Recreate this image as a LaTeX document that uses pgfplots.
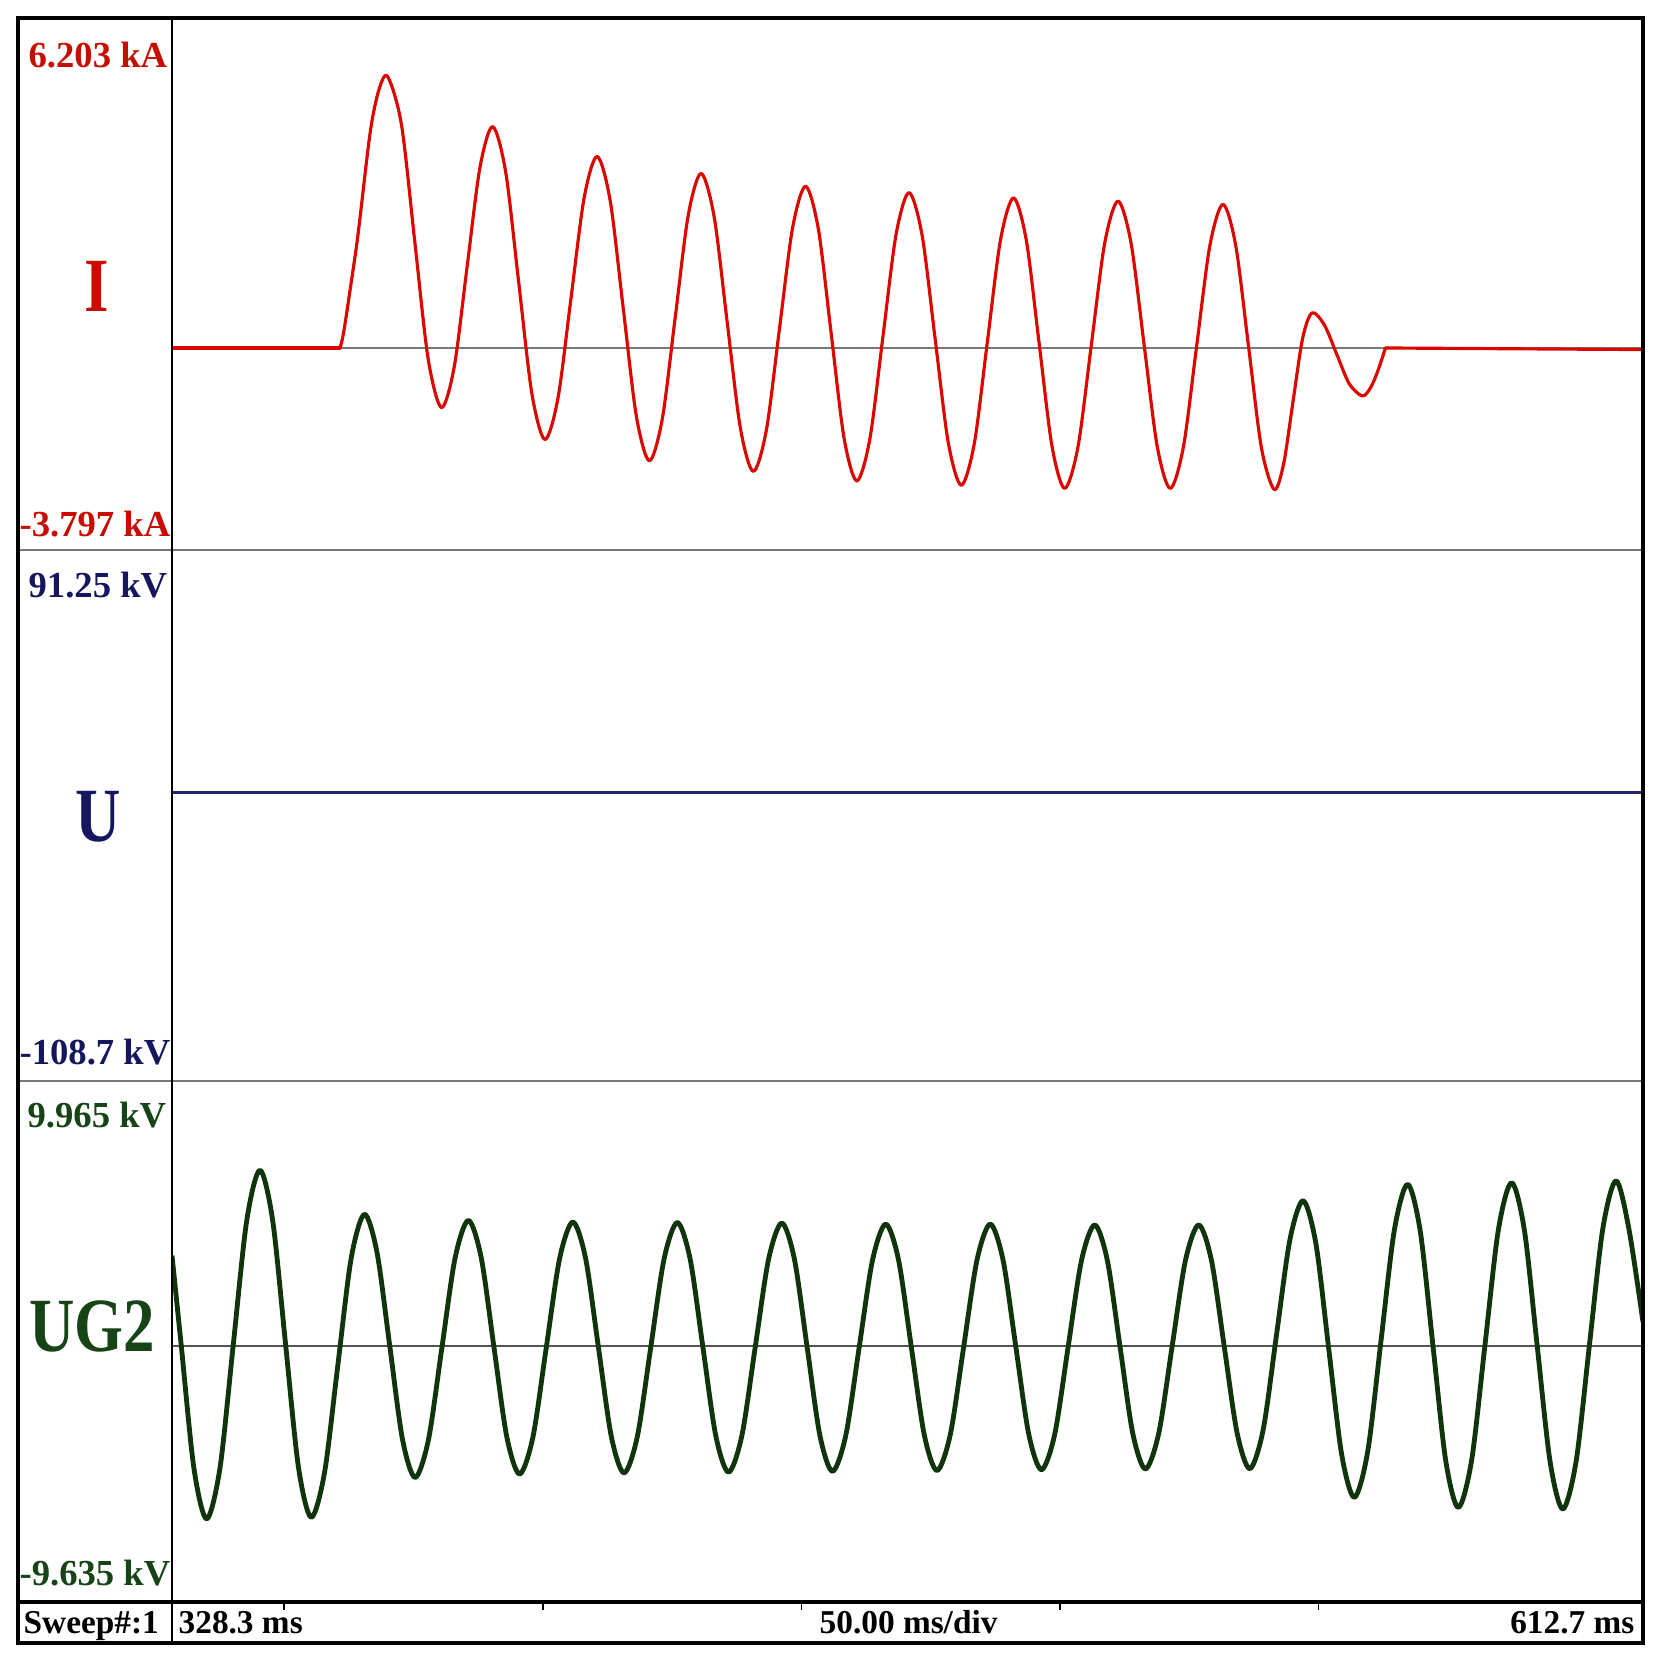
\documentclass[border=0pt]{standalone}
\usepackage{pgfplots}
\pgfplotsset{compat=1.18}
\usepackage{fontspec}
\setmainfont{Liberation Serif}
\definecolor{ired}{RGB}{218,8,0}
\definecolor{itxt}{RGB}{200,12,0}
\definecolor{unavy}{RGB}{35,35,115}
\definecolor{utxt}{RGB}{22,22,95}
\definecolor{ggreen}{RGB}{16,52,12}
\definecolor{gtxt}{RGB}{22,68,22}
\definecolor{zgray}{RGB}{120,120,120}
\newcommand{\lab}{\fontsize{11pt}{11pt}\selectfont\bfseries}
\newcommand{\biglab}[1]{\scalebox{0.82}[1]{\fontsize{23pt}{23pt}\selectfont\bfseries #1}}
\newcommand{\barlab}{\fontsize{10pt}{10pt}\selectfont\bfseries}
\pgfplotsset{panel/.style={scale only axis, width=441.3pt, xmin=328.3, xmax=612.7,
  hide axis, anchor=south west, clip=true}}
\begin{document}
\begin{tikzpicture}
\begin{scope}[x=0.3pt,y=0.3pt]
\path[use as bounding box] (0,0) rectangle (1668,1666);
\coordinate (A1) at (172,1116);
\coordinate (A2) at (172,585);
\coordinate (A3) at (172,64);
\end{scope}
% ---------------- I panel
\begin{axis}[panel, at={(A1)}, height=159.6pt, ymin=-3.797, ymax=6.203]
\addplot[zgray, line width=0.6pt] coordinates {(328.3,0) (612.7,0)};
\addplot[ired, line width=0.95pt, line cap=round] coordinates {(328.3,0) (360.8,0)};
\addplot[ired, line width=0.95pt, smooth, line cap=round, line join=round] coordinates {
(360.8,0) (361.5,0.3) (362.9,1.2) (364.3,2.16) (366.6,4.04) (368.3,4.85) (370.0,5.10)
(372.68,4.189) (375.25,1.99) (377.83,-0.209) (380.4,-1.12)
(382.88,-0.347) (385.35,1.52) (387.83,3.387) (390.3,4.16)
(392.83,3.299) (395.35,1.22) (397.88,-0.859) (400.4,-1.72)
(402.93,-0.941) (405.45,0.94) (407.98,2.821) (410.5,3.60)
(413.03,2.763) (415.55,0.74) (418.08,-1.283) (420.6,-2.12)
(423.1,-1.329) (425.6,0.58) (428.1,2.489) (430.6,3.28)
(433.13,2.46) (435.65,0.48) (438.18,-1.50) (440.7,-2.32)
(443.23,-1.535) (445.75,0.36) (448.28,2.255) (450.8,3.04)
(453.28,2.229) (455.75,0.27) (458.23,-1.689) (460.7,-2.50)
(463.23,-1.707) (465.75,0.21) (468.28,2.127) (470.8,2.92)
(473.33,2.115) (475.85,0.17) (478.38,-1.775) (480.9,-2.58)
(483.43,-1.789) (485.95,0.12) (488.48,2.029) (491.0,2.82)
(493.48,2.021) (495.95,0.09) (498.43,-1.841) (500.9,-2.64)
(503.48,-1.849) (506.05,0.06) (508.63,1.969) (511.2,2.76)
(513.73,1.969) (516.25,0.06) (518.78,-1.849) (521.3,-2.64)
(523.85,-1.858) (526.4,0.03) (528.95,1.918) (531.5,2.70)
(533.98,1.915) (536.45,0.02) (538.93,-1.875) (541.4,-2.66)
(543.23,-2.174) (545.05,-1.00) (546.88,0.174) (548.7,0.66)
(551.1,0.432) (553.5,-0.12) (555.9,-0.672) (558.3,-0.90)
(559.45,-0.832) (560.6,-0.636) (561.75,-0.345) (562.9,0)
};
\addplot[ired, line width=0.95pt, line cap=round] coordinates {(562.9,0) (612.7,-0.03)};
\end{axis}
% ---------------- U panel
\begin{axis}[panel, at={(A2)}, height=159.3pt, ymin=-108.7, ymax=91.25]
\addplot[unavy, line width=0.85pt] coordinates {(328.3,0) (612.7,0)};
\end{axis}
% ---------------- UG2 panel
\begin{axis}[panel, at={(A3)}, height=156.3pt, ymin=-9.635, ymax=9.965]
\addplot[zgray!70!black, line width=0.55pt] coordinates {(328.3,0) (612.7,0)};
\addplot[ggreen, line width=1.45pt, smooth, line join=round] coordinates {
(328.3,3.4) (330.07,0.05) (332.53,-4.59) (335.0,-6.51)
(337.58,-4.589) (340.15,0.05) (342.73,4.689) (345.3,6.61)
(347.78,4.698) (350.25,0.08) (352.73,-4.538) (355.2,-6.45)
(357.78,-4.781) (360.35,-0.75) (362.93,3.281) (365.5,4.95)
(367.95,3.501) (370.4,0) (372.85,-3.501) (375.3,-4.95)
(377.88,-3.534) (380.45,-0.115) (383.03,3.304) (385.6,4.72)
(388.08,3.323) (390.55,-0.05) (393.03,-3.423) (395.5,-4.82)
(398.08,-3.432) (400.65,-0.08) (403.23,3.272) (405.8,4.66)
(408.28,3.278) (410.75,-0.06) (413.23,-3.398) (415.7,-4.78)
(418.28,-3.401) (420.85,-0.07) (423.43,3.261) (426.0,4.64)
(428.48,3.265) (430.95,-0.055) (433.43,-3.375) (435.9,-4.75)
(438.48,-3.378) (441.05,-0.065) (443.63,3.248) (446.2,4.62)
(448.65,3.253) (451.1,-0.05) (453.55,-3.353) (456.0,-4.72)
(458.58,-3.358) (461.15,-0.07) (463.73,3.218) (466.3,4.58)
(468.78,3.223) (471.25,-0.055) (473.73,-3.333) (476.2,-4.69)
(478.78,-3.333) (481.35,-0.055) (483.93,3.223) (486.5,4.58)
(488.98,3.227) (491.45,-0.04) (493.93,-3.307) (496.4,-4.66)
(498.98,-3.312) (501.55,-0.055) (504.13,3.202) (506.7,4.55)
(509.15,3.206) (511.6,-0.04) (514.05,-3.286) (516.5,-4.63)
(519.08,-3.286) (521.65,-0.04) (524.23,3.206) (526.8,4.55)
(529.28,3.208) (531.75,-0.035) (534.23,-3.277) (536.7,-4.62)
(539.28,-3.144) (541.85,0.42) (544.43,3.984) (547.0,5.46)
(549.48,3.826) (551.95,-0.12) (554.43,-4.066) (556.9,-5.70)
(559.48,-3.975) (562.05,0.19) (564.63,4.355) (567.2,6.08)
(569.65,4.30) (572.1,0) (574.55,-4.30) (577.0,-6.08)
(579.58,-4.291) (582.15,0.03) (584.73,4.351) (587.3,6.14)
(589.78,4.342) (592.25,0) (594.73,-4.342) (597.2,-6.14)
(599.78,-4.332) (602.35,0.035) (604.93,4.402) (607.5,6.21)
(609.98,4.40) (612.7,0.9)
};
\end{axis}
% ---------------- frame, dividers and texts
\begin{scope}[x=0.3pt,y=0.3pt]
\draw[zgray, line width=0.6pt] (18,1116) -- (1643,1116);
\draw[zgray, line width=0.6pt] (18,585) -- (1643,585);
\draw[line width=0.75pt] (172,23) -- (172,1648);
\draw[line width=1.2pt] (18,64) -- (1643,64);
\foreach \t in {350,400,450,500,550} \draw[line width=0.45pt] ({172+(\t-328.3)*5.172},64) -- ++(0,-8);
\draw[line width=1.2pt] (18,23) rectangle (1643,1648);
\node[anchor=base west, inner sep=0, text=itxt] at (28,1598) {\lab 6.203 kA};
\node[anchor=base east, inner sep=0, text=itxt] at (171,1129) {\lab -3.797 kA};
\node[anchor=base west, inner sep=0, text=utxt] at (28,1068) {\lab 91.25 kV};
\node[anchor=base east, inner sep=0, text=utxt] at (171,601) {\lab -108.7 kV};
\node[anchor=base west, inner sep=0, text=gtxt] at (27,538) {\lab 9.965 kV};
\node[anchor=base east, inner sep=0, text=gtxt] at (171,80) {\lab -9.635 kV};
\node[anchor=base, inner sep=0, text=itxt] at (97,1354) {\biglab{I}};
\node[anchor=base, inner sep=0, text=utxt] at (98,824) {\biglab{U}};
\node[anchor=base, inner sep=0, text=gtxt] at (92,314) {\biglab{UG2}};
\node[anchor=base west, inner sep=0] at (23,32) {\barlab Sweep\#:1};
\node[anchor=base west, inner sep=0] at (178,32) {\barlab 328.3 ms};
\node[anchor=base west, inner sep=0] at (819,32) {\barlab 50.00 ms/div};
\node[anchor=base east, inner sep=0] at (1635,32) {\barlab 612.7 ms};
\end{scope}
\end{tikzpicture}
\end{document}
